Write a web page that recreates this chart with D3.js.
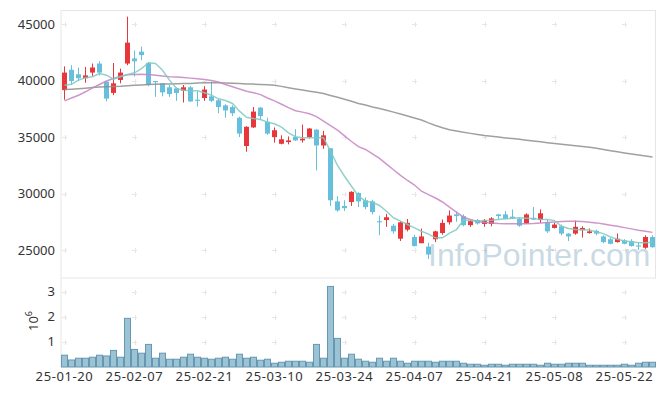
<!DOCTYPE html>
<html><head><meta charset="utf-8">
<script src="https://cdn.jsdelivr.net/npm/d3@7"></script>
<style>body{margin:0;background:#fff;}svg{display:block;}</style>
</head><body>
<svg id="c" width="665" height="396"></svg>
<script>
const dates = ["25-01-20","25-01-21","25-01-22","25-01-23","25-01-24","25-01-31","25-02-03","25-02-04","25-02-05","25-02-06",
"25-02-07","25-02-10","25-02-11","25-02-12","25-02-13","25-02-14","25-02-17","25-02-18","25-02-19","25-02-20",
"25-02-21","25-02-24","25-02-25","25-02-26","25-02-27","25-02-28","25-03-04","25-03-05","25-03-06","25-03-07",
"25-03-10","25-03-11","25-03-12","25-03-13","25-03-14","25-03-17","25-03-18","25-03-19","25-03-20","25-03-21",
"25-03-24","25-03-25","25-03-26","25-03-27","25-03-28","25-03-31","25-04-01","25-04-02","25-04-03","25-04-04",
"25-04-07","25-04-08","25-04-09","25-04-10","25-04-11","25-04-14","25-04-15","25-04-16","25-04-17","25-04-18",
"25-04-21","25-04-22","25-04-23","25-04-24","25-04-25","25-04-28","25-04-29","25-04-30","25-05-02","25-05-07",
"25-05-08","25-05-09","25-05-12","25-05-13","25-05-14","25-05-15","25-05-16","25-05-19","25-05-20","25-05-21",
"25-05-22","25-05-23","25-05-26","25-05-27","25-05-28"];

const openP = [39150,40950,40550,40200,40700,41500,39900,38900,40050,41500,
41950,42550,41550,39950,39750,39400,39300,39100,39400,38300,
38450,38600,38250,37800,37650,36700,34200,35850,37600,36350,
35000,34400,34550,35000,34700,35000,35650,34250,34000,29300,
28900,29250,30050,29400,29300,27550,27650,27150,26000,26800,
26150,25600,25300,25950,26500,27450,28150,28000,27200,27650,
27300,27300,28150,28150,27950,27750,27350,27850,27650,27450,
26950,27100,26450,26450,26750,26500,26700,26200,25950,25700,
25850,25800,25400,25200,26150];
const highP = [41250,41350,41150,41200,41500,41700,39900,41550,41050,45650,
42650,43000,41650,39950,39750,39600,39400,39600,39500,39050,
39500,39900,38400,37900,37800,36800,35950,37650,37650,36700,
35850,35150,35050,35700,36100,35800,35700,35550,34000,29750,
29400,30200,30100,29650,29450,28050,28200,27300,27550,27750,
26350,26900,25650,26700,27700,28500,28400,28150,27700,27750,
27750,27900,28200,28450,28600,27850,28250,28800,28600,27650,
27400,27250,26500,27600,27100,26900,26800,26300,26100,26450,
25950,25950,25700,26300,26300];
const lowP = [38300,39600,39950,39800,40400,40450,38150,38700,39750,41350,
40350,41800,39500,38550,38600,38550,38200,38050,38100,37700,
38200,38100,37100,36700,36850,35000,33700,35800,36500,35200,
34500,34350,34350,34650,34500,34850,32050,33950,28900,28400,
28450,28900,28800,28600,28150,26300,27050,26450,25800,26650,
25300,25600,24200,25700,26350,27250,27500,27100,27050,27250,
27050,27100,27700,27700,27750,27050,27300,27650,27400,26500,
26900,26300,25800,26350,26100,26450,26300,25600,25500,25650,
25500,25300,25000,25100,25200];
const closeP = [40700,39950,40200,40450,41150,40700,38400,39750,40700,43350,
41700,42250,39600,39850,38950,38800,38900,39400,38150,38200,
39200,38200,37650,37350,37100,35300,35900,37250,36850,35300,
35600,34800,34700,34700,34850,35750,34250,35150,29400,28500,
28700,30150,29300,28800,28350,27450,27900,26650,27450,27400,
25350,26200,24600,26650,27400,28050,28000,27200,27550,27350,
27600,27800,28000,27750,27800,27150,28150,27700,28250,26650,
27250,26450,26200,27050,26950,26650,26450,25700,25550,26000,
25550,25350,25300,26150,25250];

const volume = [0.47,0.28,0.35,0.35,0.39,0.47,0.44,0.66,0.39,1.94,
0.70,0.55,0.90,0.35,0.55,0.31,0.31,0.39,0.51,0.39,
0.35,0.31,0.35,0.39,0.31,0.51,0.35,0.39,0.27,0.31,
0.15,0.19,0.23,0.23,0.23,0.19,0.90,0.35,3.21,1.14,
0.35,0.51,0.31,0.23,0.19,0.35,0.23,0.35,0.23,0.15,
0.23,0.23,0.23,0.19,0.23,0.23,0.23,0.15,0.11,0.11,
0.07,0.11,0.11,0.07,0.11,0.11,0.11,0.11,0.07,0.15,
0.11,0.11,0.15,0.15,0.15,0.07,0.07,0.07,0.07,0.07,
0.11,0.07,0.15,0.19,0.19];

const ma5 = [39590,39670,40030,40240,40330,40620,40470,40120,40330,40530,
40680,41060,41570,41500,40910,40030,39290,39140,39090,39090,
38910,38700,38380,38230,37965,37285,36750,36640,36550,36310,
36165,35870,35370,35020,34930,34930,34930,34930,33745,32480,
31530,30645,29760,29320,29230,28940,28430,27850,27550,27256,
26960,26660,26400,26080,26080,26500,26810,27640,27640,27550,
27600,27640,27700,27760,27800,27850,27820,27760,27720,27700,
27600,27100,26900,26810,26800,26780,26600,26450,26150,25950,
25800,25720,25650,25640,25690];
const ma20 = [38200,38450,38700,39000,39350,39650,39950,40180,40380,40500,
40540,40560,40530,40460,40400,40340,40300,40270,40210,40150,
40080,40000,39870,39650,39450,39250,39050,38920,38750,38450,
38200,37900,37600,37330,37200,37050,36800,36400,36000,35600,
35100,34600,34150,33900,33500,33100,32600,32100,31600,31150,
30750,30200,29900,29600,29250,28800,28350,27900,27700,27520,
27430,27380,27340,27320,27320,27320,27330,27340,27380,27430,
27480,27520,27540,27550,27520,27460,27400,27300,27200,27100,
26980,26870,26750,26650,26560];
const ma60 = [39200,39230,39270,39320,39380,39420,39450,39480,39500,39540,
39570,39600,39640,39660,39680,39700,39720,39730,39740,39770,
39790,39800,39790,39770,39750,39730,39700,39680,39650,39620,
39580,39480,39360,39250,39150,39050,38950,38840,38680,38520,
38340,38160,37970,37830,37660,37520,37370,37200,37030,36850,
36680,36500,36250,36020,35820,35650,35540,35420,35320,35220,
35130,35060,34990,34920,34860,34800,34720,34650,34570,34490,
34420,34360,34300,34230,34160,34090,34000,33890,33790,33690,
33590,33500,33410,33320,33220];

const priceTicks = [25000,30000,35000,40000,45000];
const volTicks = [1,2,3];
const xTickLabels = ["25-01-20","25-02-07","25-02-21","25-03-10","25-03-24","25-04-07","25-04-21","25-05-08","25-05-22"];

const svg = d3.select("#c");
const L = 61, R = 656, T = 10.5, PB = 278, VB = 367;
const font = "'Noto Sans', 'Open Sans', sans-serif";

svg.append("rect").attr("width",665).attr("height",396).attr("fill","#fff");

const x = d3.scaleBand().domain(dates).range([L, R]).padding(0);
const bw = x.bandwidth();
const cx = d => x(d) + bw/2;
const y = d3.scaleLinear().domain([25000,45000]).range([250,24]);
const yv = d3.scaleLinear().domain([0,3]).range([VB, 291.7]);

// grid crosses
const gridX = xTickLabels.map(cx);
const crossG = svg.append("g").attr("stroke","#e6e6e6").attr("stroke-width",1);
function cross(px, py){
  crossG.append("line").attr("x1",px-2.5).attr("x2",px+2.5).attr("y1",py+0.5).attr("y2",py+0.5);
  crossG.append("line").attr("x1",Math.round(px)+0.5).attr("x2",Math.round(px)+0.5).attr("y1",py-2).attr("y2",py+3);
}
priceTicks.forEach(t => gridX.forEach(gx => cross(gx, Math.round(y(t)))));
volTicks.forEach(t => gridX.forEach(gx => cross(gx, Math.round(yv(t)))));

// frame
const fr = svg.append("g").attr("stroke","#e6e6e6").attr("stroke-width",1).attr("fill","none");
fr.append("line").attr("x1",L).attr("x2",R).attr("y1",T).attr("y2",T);
fr.append("line").attr("x1",L).attr("x2",R).attr("y1",PB).attr("y2",PB);
fr.append("line").attr("x1",L).attr("x2",L).attr("y1",T).attr("y2",VB);
fr.append("line").attr("x1",R-0.5).attr("x2",R-0.5).attr("y1",T).attr("y2",PB);

// candles
const upC = "#e8373a", dnC = "#66bfdc";
const cg = svg.append("g");
dates.forEach((d,i) => {
  const up = closeP[i] > openP[i];
  const col = up ? upC : dnC;
  const c = Math.floor(cx(d)) + 0.5;
  cg.append("line").attr("x1",c).attr("x2",c).attr("y1",y(highP[i])).attr("y2",y(lowP[i]))
    .attr("stroke",col).attr("stroke-width",1);
  const top = y(Math.max(openP[i],closeP[i])), bot = y(Math.min(openP[i],closeP[i]));
  cg.append("rect").attr("x",c-2.5).attr("width",5).attr("y",top).attr("height",Math.max(1,bot-top)).attr("fill",col);
});

// moving averages
const line = arr => d3.line().x((v,i)=>cx(dates[i])).y(v=>y(v)).curve(d3.curveLinear)(arr);
svg.append("path").attr("d",line(ma60)).attr("fill","none").attr("stroke","#8f8f8f").attr("stroke-width",1.5).attr("opacity",0.85);
svg.append("path").attr("d",line(ma20)).attr("fill","none").attr("stroke","#c585c2").attr("stroke-width",1.5).attr("opacity",0.85);
svg.append("path").attr("d",line(ma5)).attr("fill","none").attr("stroke","#7fcabf").attr("stroke-width",1.5).attr("opacity",0.85);

// volume bars
const vg = svg.append("g");
dates.forEach((d,i) => {
  vg.append("rect").attr("x",x(d)+0.5).attr("width",bw-1).attr("y",yv(volume[i])).attr("height",VB-yv(volume[i]))
    .attr("fill","#9cc3d4").attr("stroke","#6798b3").attr("stroke-width",1);
});

// axis labels
const tg = svg.append("g").attr("font-family",font).attr("font-size",13).attr("fill","#333");
priceTicks.forEach(t => tg.append("text").attr("x",55).attr("y",y(t)).attr("dy","0.35em").attr("text-anchor","end").text(t));
volTicks.forEach(t => tg.append("text").attr("x",55).attr("y",yv(t)).attr("dy","0.35em").attr("text-anchor","end").text(t));
xTickLabels.forEach(t => tg.append("text").attr("x",cx(t)).attr("y",381).attr("text-anchor","middle").attr("letter-spacing",0.6).text(t));
const vl = tg.append("text").attr("transform","translate(38,321) rotate(-90)").attr("text-anchor","middle");
vl.append("tspan").text("10");
vl.append("tspan").attr("font-size",9).attr("dy",-6).text("6");

// watermark
svg.append("text").attr("x",428).attr("y",266).attr("font-family","'Liberation Sans', Arial, sans-serif")
  .attr("font-size",32).attr("fill","#4f86a8").attr("opacity",0.3).text("InfoPointer.com");
</script>
</body></html>
